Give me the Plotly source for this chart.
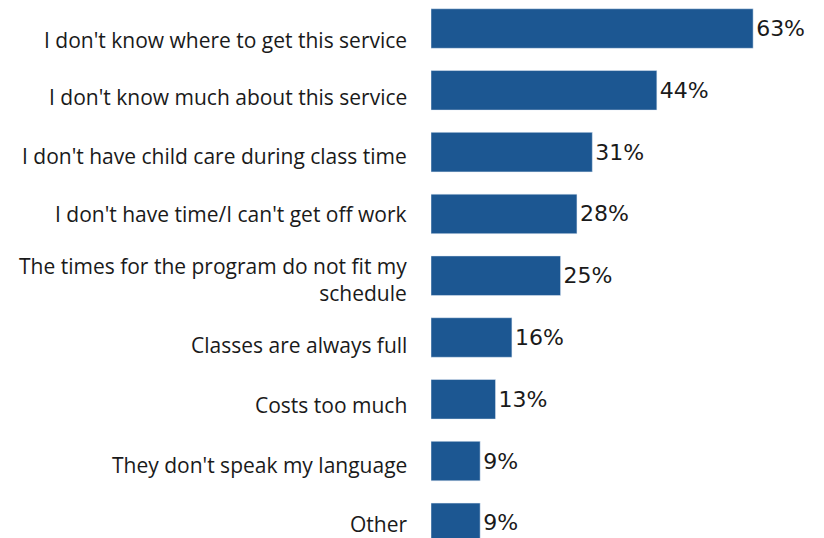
import plotly.graph_objects as go

# motivos por los que no usan el servicio
categorias = [
    "I don't know where to get this service",
    "I don't know much about this service",
    "I don't have child care during class time",
    "I don't have time/I can't get off work",
    "The times for the program do not fit my<br>schedule",
    "Classes are always full",
    "Costs too much",
    "They don't speak my language",
    "Other",
]
porcentajes = [62.9, 44.1, 31.5, 28.5, 25.3, 15.8, 12.6, 9.6, 9.6]
etiquetas = ['63%', '44%', '31%', '28%', '25%', '16%', '13%', '9%', '9%']

# desplazamiento vertical (px) de cada etiqueta respecto al centro de su barra
desplazamientos = [11.5, 6.5, 3.5, 0, 4, 7.5, 5.3, 3.5, 1.3]

fig = go.Figure(go.Bar(
    x=porcentajes,
    y=categorias,
    orientation='h',
    marker=dict(color='#1c5792'),
    width=0.64,
    text=etiquetas,
    textposition='outside',
    cliponaxis=False,
    textfont=dict(family='DejaVu Sans', size=22, color='#1a1a1a'),
))

for cat, d in zip(categorias, desplazamientos):
    fig.add_annotation(
        x=0, xref='paper', y=cat, yref='y',
        text=cat, showarrow=False,
        xanchor='right', yanchor='middle', align='right',
        xshift=-22, yshift=-d,
        font=dict(family='Open Sans', size=21, color='#1a1a1a'),
    )

fig.update_layout(
    width=824, height=538,
    margin=dict(l=423, r=0, t=0, b=0),
    plot_bgcolor='white', paper_bgcolor='white',
    showlegend=False,
    font=dict(family='Open Sans', size=21, color='#1a1a1a'),
)
fig.update_xaxes(range=[0, 78.3], visible=False)
fig.update_yaxes(
    range=[8.374, -0.332],
    showgrid=False, zeroline=False, showline=False, ticks='',
    showticklabels=False,
)

fig.write_html("out.html")
